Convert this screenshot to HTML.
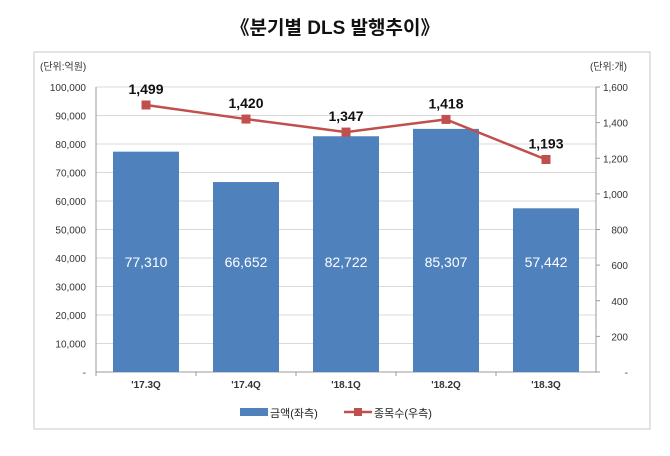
<!DOCTYPE html>
<html><head><meta charset="utf-8"><style>
body{margin:0;background:#fff;width:670px;height:451px;overflow:hidden}
svg{font-family:"Liberation Sans","Noto Sans CJK KR",sans-serif}
</style></head><body>
<svg width="670" height="451">
<text x="335" y="34" text-anchor="middle" font-size="19" font-weight="bold" fill="#111">《분기별 DLS 발행추이》</text>
<rect x="34" y="52" width="616" height="377" fill="none" stroke="#c8c8c8"/>
<text x="40" y="70" font-size="10" fill="#333">(단위:억원)</text>
<text x="627" y="70" font-size="10" fill="#333" text-anchor="end">(단위:개)</text>
<g id="g"></g>
<g>
<rect x="240" y="408" width="28" height="8" fill="#4f81bd"/>
<text x="270" y="417" font-size="11" fill="#222">금액(좌측)</text>
<line x1="344" y1="412" x2="372" y2="412" stroke="#c0504d" stroke-width="2.5"/>
<rect x="354" y="408" width="8" height="8" fill="#c0504d"/>
<text x="374" y="417" font-size="11" fill="#222">종목수(우측)</text>
</g>
</svg>
<script>
const categories=["'17.3Q","'17.4Q","'18.1Q","'18.2Q","'18.3Q"];
const amounts=[77310,66652,82722,85307,57442];
const counts=[1499,1420,1347,1418,1193];
const leftTicks=[0,10000,20000,30000,40000,50000,60000,70000,80000,90000,100000];
const rightTicks=[0,200,400,600,800,1000,1200,1400,1600];
const L=96,R=596,T=87,B=372;
const yL=v=>B-v/100000*(B-T), yR=v=>B-v/1600*(B-T);
const xC=i=>L+(i+0.5)*(R-L)/categories.length;
const g=document.getElementById('g'),NS='http://www.w3.org/2000/svg';
function mk(t,a,txt){const e=document.createElementNS(NS,t);for(const k in a)e.setAttribute(k,a[k]);if(txt!=null)e.textContent=txt;g.appendChild(e);return e;}
const fmt=v=>v===0?'-':v.toLocaleString('en-US');
leftTicks.forEach(v=>{
 const l=mk('line',{x1:L,x2:R,y1:yL(v),y2:yL(v),stroke:'#d9d9d9'});
 
 
 const t=mk('text',{x:86,y:yL(v)+4,'text-anchor':'end','font-size':10,fill:'#333'},fmt(v));
 
 
});
rightTicks.forEach(v=>{
 const t=mk('text',{x:628,y:yR(v)+4,'text-anchor':'end','font-size':10,fill:'#333'},fmt(v));
 
 
 mk('line',{x1:R,x2:R+4,y1:yR(v),y2:yR(v),stroke:'#999'});
});
mk('line',{x1:L,x2:L,y1:T,y2:B,stroke:'#999'});
mk('line',{x1:R,x2:R,y1:T,y2:B,stroke:'#999'});
mk('line',{x1:L,x2:R,y1:B,y2:B,stroke:'#999'});
const bw=66;
categories.forEach((c,i)=>{
 const r=mk('rect',{x:xC(i)-bw/2,y:yL(amounts[i]),width:bw,height:B-yL(amounts[i]),fill:'#4f81bd'});
 
 
 const t=mk('text',{x:xC(i),y:267,'text-anchor':'middle','font-size':14,fill:'#fff'},amounts[i].toLocaleString('en-US'));
 
 
 const x=mk('text',{x:xC(i),y:388,'text-anchor':'middle','font-size':10,'font-weight':'bold',fill:'#333'},c);
 
 
 mk('line',{x1:L+i*(R-L)/5,x2:L+i*(R-L)/5,y1:B,y2:B+4,stroke:'#999'});
});
const p=mk('polyline',{points:counts.map((v,i)=>xC(i)+','+yR(v)).join(' '),fill:'none',stroke:'#c0504d','stroke-width':2.5});


counts.forEach((v,i)=>{
 const m=mk('rect',{x:xC(i)-4.5,y:yR(v)-4.5,width:9,height:9,fill:'#c0504d'});
 
 
 const t=mk('text',{x:xC(i),y:yR(v)-11,'text-anchor':'middle','font-size':14,'font-weight':'bold',fill:'#111'},v.toLocaleString('en-US'));
 
 
});
</script>
</body></html>
